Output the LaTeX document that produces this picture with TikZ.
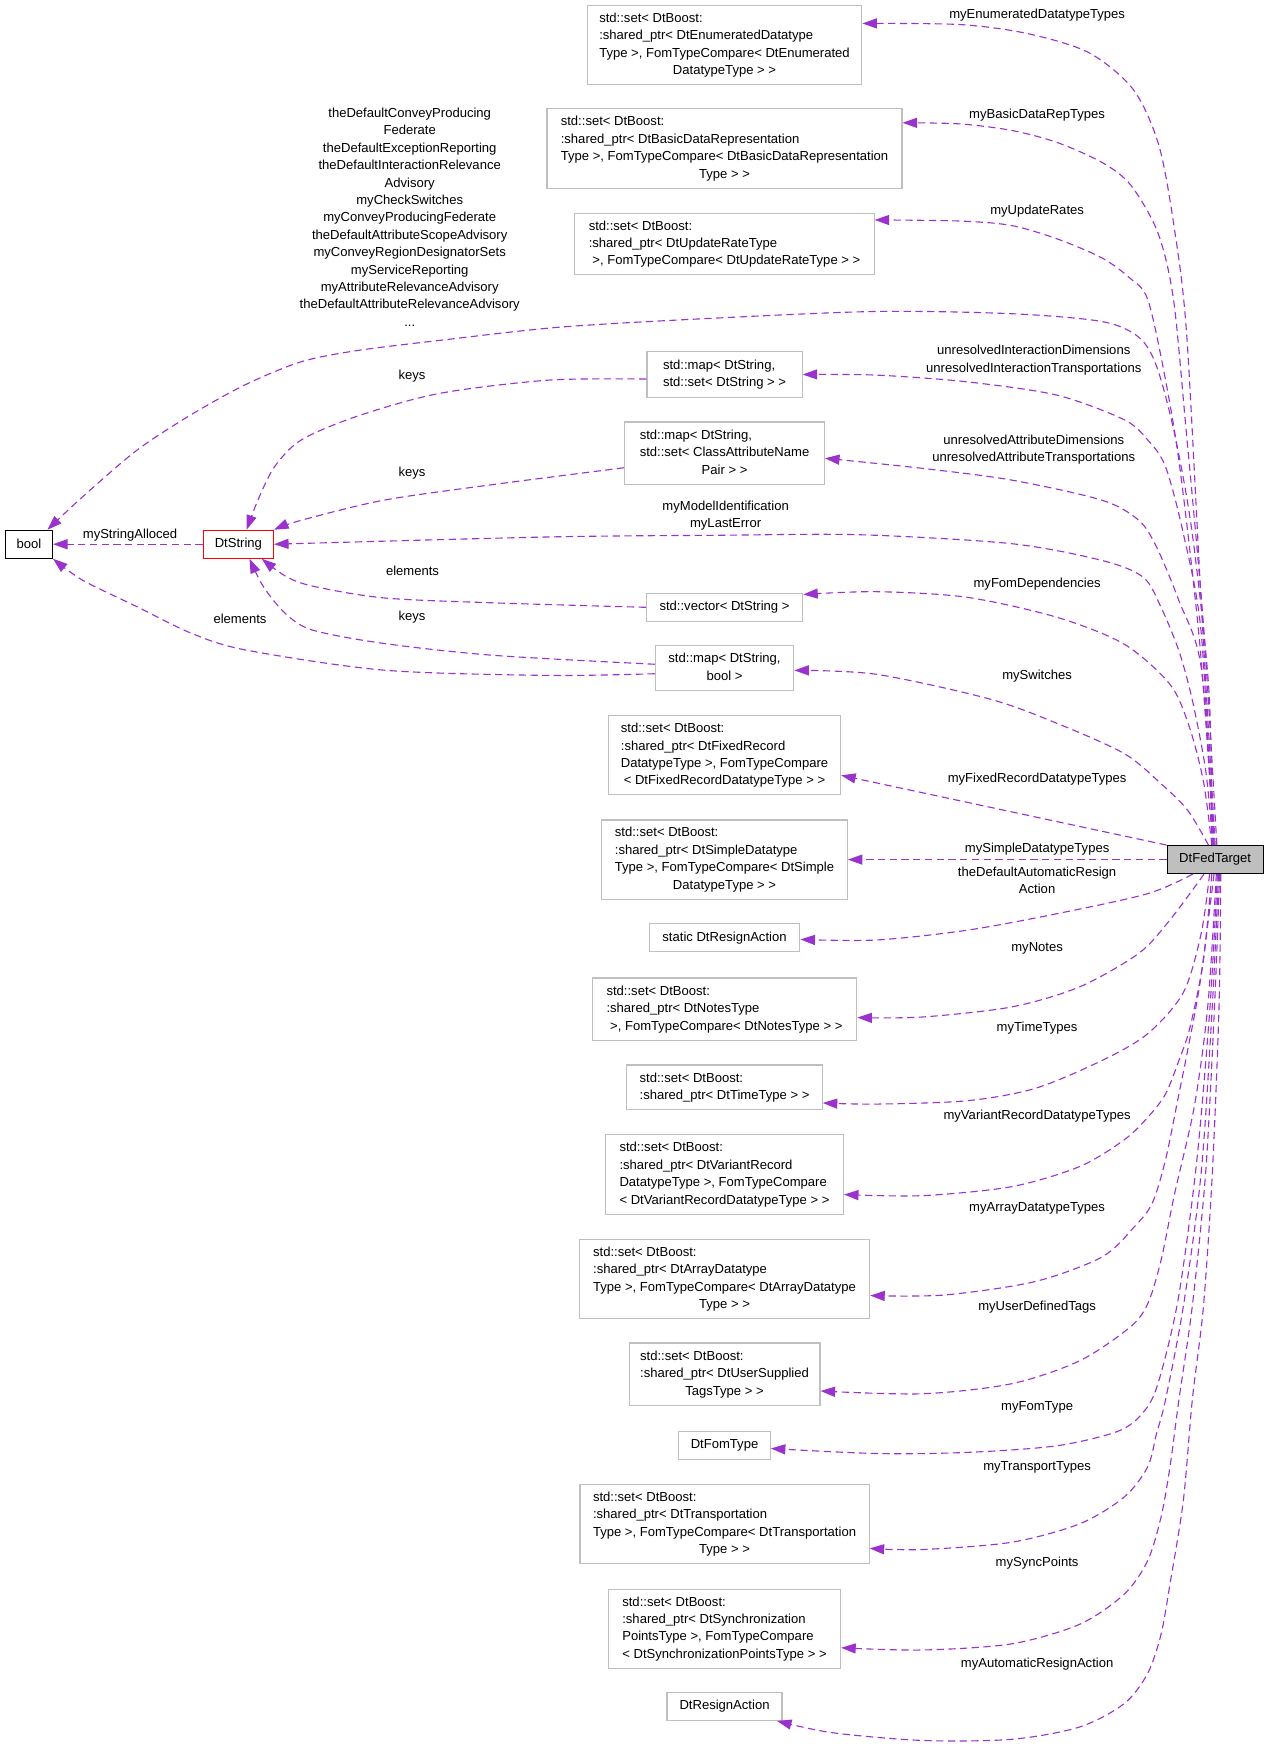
\documentclass[tikz,border=0pt]{standalone}
\usepackage{fontspec}
\setmainfont{Liberation Sans}
\usetikzlibrary{arrows.meta}

\definecolor{usagecol}{HTML}{9A32CD}
\definecolor{boxgray}{HTML}{BFBFBF}

\newcommand{\typelines}[2]{\begin{tabular}{@{}l@{}}#1\\\multicolumn{1}{@{}c@{}}{#2}\end{tabular}}

\tikzset{
  cls/.style={draw=boxgray, line width=1pt, inner xsep=5pt, inner ysep=0pt, font=\fontsize{11.7}{15.6}\selectfont},
  usage/.style={usagecol, line width=1pt, dash pattern=on 6.5pt off 4pt, -{Triangle[length=13pt,width=9pt]}},
  elabel/.style={inner sep=0pt, align=center, font=\fontsize{11.7}{15.6}\selectfont},
}

\begin{document}
\begin{tikzpicture}[x=1pt,y=-1pt]
\useasboundingbox (0,0) rectangle (1135,1564);

% classes
\node[cls, draw=black, minimum width=42pt, minimum height=25pt] (bool) at (26,487.5) {bool};
\node[cls, draw=red, minimum width=63pt, minimum height=25pt] (dtstring) at (213.5,487.5) {DtString};
\node[cls, draw=black, fill=boxgray, minimum width=86pt, minimum height=25pt] (fedtarget) at (1088.5,770) {DtFedTarget};

\node[cls, minimum width=246pt, minimum height=71pt] (enumset) at (649,40.5) {\typelines{std::set< DtBoost:\\:shared\_ptr< DtEnumeratedDatatype\\Type >, FomTypeCompare< DtEnumerated}{DatatypeType > >}};
\node[cls, minimum width=318pt, minimum height=71pt] (basicset) at (649,133) {\typelines{std::set< DtBoost:\\:shared\_ptr< DtBasicDataRepresentation\\Type >, FomTypeCompare< DtBasicDataRepresentation}{Type > >}};
\node[cls, minimum width=268pt, minimum height=55pt] (updateset) at (649,218.5) {\typelines{std::set< DtBoost:\\:shared\_ptr< DtUpdateRateType}{~>, FomTypeCompare< DtUpdateRateType > >}};
\node[cls, minimum width=139pt, minimum height=41pt] (mapset) at (649,335.5) {\typelines{std::map< DtString,}{std::set< DtString > >}};
\node[cls, minimum width=179pt, minimum height=56pt] (mapattr) at (649,406) {\typelines{std::map< DtString,\\std::set< ClassAttributeName}{Pair > >}};
\node[cls, minimum width=140pt, minimum height=25pt] (vecstr) at (649,544) {std::vector< DtString >};
\node[cls, minimum width=124pt, minimum height=40pt] (mapbool) at (649,598.5) {\typelines{std::map< DtString,}{bool >}};
\node[cls, minimum width=208pt, minimum height=71pt] (fixedset) at (649,676.5) {\typelines{std::set< DtBoost:\\:shared\_ptr< DtFixedRecord\\DatatypeType >, FomTypeCompare}{< DtFixedRecordDatatypeType > >}};
\node[cls, minimum width=220pt, minimum height=71pt] (simpleset) at (649,770) {\typelines{std::set< DtBoost:\\:shared\_ptr< DtSimpleDatatype\\Type >, FomTypeCompare< DtSimple}{DatatypeType > >}};
\node[cls, minimum width=135pt, minimum height=25pt] (staticresign) at (649,840) {static DtResignAction};
\node[cls, minimum width=237pt, minimum height=56pt] (notesset) at (649,904) {\typelines{std::set< DtBoost:\\:shared\_ptr< DtNotesType}{~>, FomTypeCompare< DtNotesType > >}};
\node[cls, minimum width=175pt, minimum height=40pt] (timeset) at (649,974) {\typelines{std::set< DtBoost:}{:shared\_ptr< DtTimeType > >}};
\node[cls, minimum width=213pt, minimum height=71pt] (variantset) at (649,1052) {\typelines{std::set< DtBoost:\\:shared\_ptr< DtVariantRecord\\DatatypeType >, FomTypeCompare}{< DtVariantRecordDatatypeType > >}};
\node[cls, minimum width=260pt, minimum height=71pt] (arrayset) at (649,1145.5) {\typelines{std::set< DtBoost:\\:shared\_ptr< DtArrayDatatype\\Type >, FomTypeCompare< DtArrayDatatype}{Type > >}};
\node[cls, minimum width=171pt, minimum height=56pt] (tagsset) at (649,1231) {\typelines{std::set< DtBoost:\\:shared\_ptr< DtUserSupplied}{TagsType > >}};
\node[cls, minimum width=82pt, minimum height=25pt] (fomtype) at (649,1294.5) {DtFomType};
\node[cls, minimum width=259pt, minimum height=71pt] (transportset) at (649,1365) {\typelines{std::set< DtBoost:\\:shared\_ptr< DtTransportation\\Type >, FomTypeCompare< DtTransportation}{Type > >}};
\node[cls, minimum width=208pt, minimum height=71pt] (syncset) at (649,1459) {\typelines{std::set< DtBoost:\\:shared\_ptr< DtSynchronization\\PointsType >, FomTypeCompare}{< DtSynchronizationPointsType > >}};
\node[cls, minimum width=103pt, minimum height=25pt] (resign) at (649,1528.5) {DtResignAction};

% member labels
\node[elabel] (l-enum) at (929,13.5) {myEnumeratedDatatypeTypes};
\node[elabel] (l-basic) at (929,103) {myBasicDataRepTypes};
\node[elabel] (l-update) at (929,189) {myUpdateRates};
\node[elabel] (l-bool) at (367,194.5) {theDefaultConveyProducing\\Federate\\theDefaultExceptionReporting\\theDefaultInteractionRelevance\\Advisory\\myCheckSwitches\\myConveyProducingFederate\\theDefaultAttributeScopeAdvisory\\myConveyRegionDesignatorSets\\myServiceReporting\\myAttributeRelevanceAdvisory\\theDefaultAttributeRelevanceAdvisory\\...};
\node[elabel] (l-mapset) at (926,322.5) {unresolvedInteractionDimensions\\unresolvedInteractionTransportations};
\node[elabel] (l-mapattr) at (926,402.5) {unresolvedAttributeDimensions\\unresolvedAttributeTransportations};
\node[elabel] (l-string) at (650,462) {myModelIdentification\\myLastError};
\node[elabel] (l-vec) at (929,523) {myFomDependencies};
\node[elabel] (l-switch) at (929,606) {mySwitches};
\node[elabel] (l-fixed) at (929,697.5) {myFixedRecordDatatypeTypes};
\node[elabel] (l-simple) at (929,760.5) {mySimpleDatatypeTypes};
\node[elabel] (l-static) at (929,788.5) {theDefaultAutomaticResign\\Action};
\node[elabel] (l-notes) at (929,849.5) {myNotes};
\node[elabel] (l-time) at (929,921) {myTimeTypes};
\node[elabel] (l-variant) at (929,1000) {myVariantRecordDatatypeTypes};
\node[elabel] (l-array) at (929,1082) {myArrayDatatypeTypes};
\node[elabel] (l-tags) at (929,1171) {myUserDefinedTags};
\node[elabel] (l-fom) at (929,1261) {myFomType};
\node[elabel] (l-transport) at (929,1314) {myTransportTypes};
\node[elabel] (l-sync) at (929,1400.5) {mySyncPoints};
\node[elabel] (l-resign) at (929,1490.5) {myAutomaticResignAction};
\node[elabel] (l-alloced) at (116.5,479) {myStringAlloced};
\node[elabel] (l-keys1) at (369,336.5) {keys};
\node[elabel] (l-keys2) at (369,423.5) {keys};
\node[elabel] (l-elem1) at (369.5,511.5) {elements};
\node[elabel] (l-keys3) at (369,552.5) {keys};
\node[elabel] (l-elem2) at (215,554.5) {elements};

% usage edges above DtFedTarget
\draw[usage] plot[smooth] coordinates {(fedtarget.north) (1076,540) (1063,300) (1052,205) (1038,130) (1015,80) (975,47) (920,30) (860,22) ([yshift=19.5pt]enumset.east)};
\draw[usage] plot[smooth] coordinates {([xshift=1.5pt]fedtarget.north) (1078,560) (1062,380) (1051,267) (1037,208) (1013,166) (988,146) (948,128) (907,117) (860,111) ([yshift=23pt]basicset.east)};
\draw[usage] plot[smooth] coordinates {([xshift=-1pt]fedtarget.north) (1075,580) (1057,420) (1043,335) (1028,268) (1012,249) (987,231) (947,214) (906,202) (860,198) ([yshift=21.5pt]updateset.east)};
\draw[usage] plot[smooth] coordinates {([xshift=-3pt]fedtarget.north) (1083,620) (1068,478) (1052,388) (1036,328) (1020,302) (987,288) (906,281) (785,279) (640,285) (502,293) (393,305) (320,314) (270,324) (221,344) (172,371) (123,403) (74,445) ([xshift=-5pt]bool.north east)};
\draw[usage] plot[smooth] coordinates {([xshift=-2pt]fedtarget.north) (1076,567) (1060,478) (1044,418) (1028,394) (1007,376) (947,354) (866,342) (785,336) (mapset.east)};
\draw[usage] plot[smooth] coordinates {([xshift=-1pt]fedtarget.north) (1076,598) (1056,538) (1036,490) (1020,466) (987,448) (906,430) (826,419.5) ([yshift=-4.5pt]mapattr.east)};
\draw[usage] plot[smooth] coordinates {([xshift=-2pt]fedtarget.north) (1080,690) (1068,627) (1056,583) (1040,544) (1024,517) (987,502) (906,487) (770,479) (640,479.5) (490,481) (dtstring.east)};
\draw[usage] plot[smooth] coordinates {([xshift=-3pt]fedtarget.north) (1078,700) (1065,650) (1048,613) (1007,577) (947,553) (866,535) (785,530) ([yshift=11.5pt]vecstr.east)};
\draw[usage] plot[smooth] coordinates {([xshift=-6pt]fedtarget.north) (1064,726) (1040,702) (1007,675) (947,648) (886,626) (785,604) ([yshift=-2pt]mapbool.east)};
\draw[usage] (fedtarget.north west) -- ([yshift=-18pt]fixedset.east);
\draw[usage] (fedtarget.west) -- (simpleset.east);

% usage edges below DtFedTarget
\draw[usage] plot[smooth] coordinates {([xshift=-20pt]fedtarget.south) (1028,800.5) (947,818.4) (866,833.3) (785,842) ([yshift=-1.5pt]staticresign.east)};
\draw[usage] plot[smooth] coordinates {([xshift=-10pt]fedtarget.south) (1048,824) (1020,854) (967,884) (906,902) (826,911) ([yshift=-7.5pt]notesset.east)};
\draw[usage] plot[smooth] coordinates {([xshift=-5pt]fedtarget.south) (1076,836) (1060,889) (1028,926) (987,950) (927,975) (866,986) (785,989) ([yshift=-14pt]timeset.east)};
\draw[usage] plot[smooth] coordinates {([xshift=-3pt]fedtarget.south) (1078,860) (1066,920) (1056,950) (1044,980) (1028,1001) (1007,1021) (967,1045) (906,1063) (826,1071) ([yshift=-18pt]variantset.east)};
\draw[usage] plot[smooth] coordinates {([xshift=-1pt]fedtarget.south) (1075,880) (1064,940) (1056,980) (1044,1039) (1032,1078) (1016,1099) (987,1126) (927,1148) (846,1160) ([yshift=-15pt]arrayset.east)};
\draw[usage] plot[smooth] coordinates {([xshift=1pt]fedtarget.south) (1082,900) (1070,990) (1052,1070) (1040,1129) (1028,1168) (1012,1189) (967,1219) (906,1239.5) (826,1248.5) ([yshift=-15pt]tagsset.east)};
\draw[usage] plot[smooth] coordinates {([xshift=2pt]fedtarget.south) (1084,900) (1072,1040) (1056,1160) (1040,1230) (1028,1260) (1004,1281) (947,1295) (866,1301) (785,1302) ([yshift=-3pt]fomtype.east)};
\draw[usage] plot[smooth] coordinates {([xshift=3pt]fedtarget.south) (1086,900) (1076,1050) (1060,1170) (1044,1254) (1036,1284) (1028,1314) (1007,1341) (967,1365) (906,1381.5) (826,1388) ([yshift=-22pt]transportset.east)};
\draw[usage] plot[smooth] coordinates {([xshift=4pt]fedtarget.south) (1088,900) (1080,1050) (1068,1170) (1056,1254) (1048,1314) (1040,1359) (1028,1398) (1007,1428) (967,1455) (906,1472.5) (826,1478) ([yshift=-17pt]syncset.east)};
\draw[usage] plot[smooth] coordinates {([xshift=5pt]fedtarget.south) (1092,900) (1086,1050) (1078,1170) (1068,1254) (1060,1344) (1048,1419) (1040,1464) (1028,1499) (1007,1526) (967,1547) (906,1558) (826,1559) (745,1552) ([xshift=-5pt]resign.south east)};

% usage edges on the left
\draw[usage] (dtstring.west) -- (bool.east);
\draw[usage] plot[smooth] coordinates {([yshift=-4pt]mapset.west) (491.5,340.5) (393,352.5) (319.5,373) (270,394) (246,418) (231,448) ([xshift=7.5pt]dtstring.north)};
\draw[usage] plot[smooth] coordinates {([yshift=-13pt]mapattr.west) (442,434) (344,448) (270,466) (dtstring.north east)};
\draw[usage] plot[smooth] coordinates {(vecstr.west) (442,540) (344,535.6) (280,525) (255.6,516) ([xshift=-11pt]dtstring.south east)};
\draw[usage] plot[smooth] coordinates {([yshift=3.5pt]mapbool.west) (442,587) (344,576.4) (280,564.4) (255.6,549.5) (236,525.6) ([xshift=10pt]dtstring.south)};
\draw[usage] plot[smooth] coordinates {([yshift=-5pt]mapbool.west) (491.5,605) (344,600.3) (221,582.4) (172,567.5) (123,543.6) (74,519.7) (bool.south east)};
\end{tikzpicture}
\end{document}
